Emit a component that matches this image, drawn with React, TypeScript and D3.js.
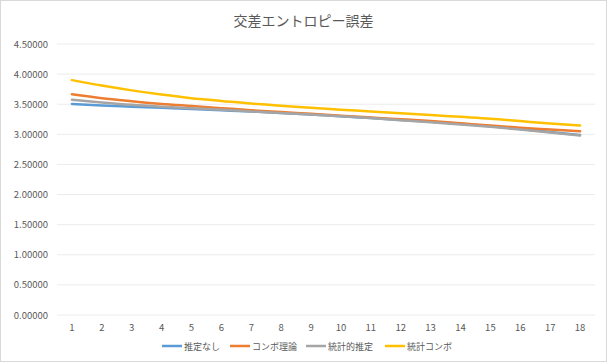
import React from "react";
import * as d3 from "d3";

const categories = ["1","2","3","4","5","6","7","8","9","10","11","12","13","14","15","16","17","18"];
const seriesNames = ["推定なし", "コンボ理論", "統計的推定", "統計コンボ"];
const seriesColors = ["#5B9BD5", "#ED7D31", "#A5A5A5", "#FFC000"];
const noEstimate = [3.505, 3.48, 3.46, 3.44, 3.42, 3.40, 3.38, 3.355, 3.33, 3.30, 3.27, 3.24, 3.21, 3.175, 3.135, 3.09, 3.04, 2.99];
const comboTheory = [3.665, 3.60, 3.55, 3.505, 3.47, 3.435, 3.40, 3.37, 3.34, 3.31, 3.28, 3.25, 3.22, 3.185, 3.145, 3.11, 3.08, 3.05];
const statEstimate = [3.575, 3.53, 3.49, 3.46, 3.435, 3.41, 3.38, 3.355, 3.33, 3.30, 3.27, 3.235, 3.20, 3.165, 3.125, 3.08, 3.03, 2.98];
const statCombo = [3.90, 3.81, 3.73, 3.66, 3.60, 3.555, 3.51, 3.475, 3.44, 3.41, 3.38, 3.35, 3.32, 3.29, 3.26, 3.22, 3.18, 3.145];
const yTicks = [0, 0.5, 1, 1.5, 2, 2.5, 3, 3.5, 4, 4.5];

const W = 607, H = 362;
const FONT = "'Noto Sans CJK JP', 'Noto Sans', sans-serif";
const TEXT = "#595959";

export default function App() {
  const series = [noEstimate, comboTheory, statEstimate, statCombo];
  const x = d3.scalePoint<string>().domain(categories).range([57, 595]).padding(0.5);
  const y = d3.scaleLinear().domain([0, 4.5]).range([315, 44]);
  const line = d3
    .line<number>()
    .x((_, i) => x(categories[i]) as number)
    .y((d) => y(d))
    .curve(d3.curveMonotoneX);
  const fmt = d3.format(".5f");
  const legendX = [162, 230, 306, 385];

  return (
    <svg width={W} height={H} style={{ position: "absolute", left: 0, top: 0, background: "#fff" }}>
      <rect x={0.5} y={0.5} width={W - 1} height={H - 1} fill="#fff" stroke="#d9d9d9" />
      <text x={W / 2} y={26} textAnchor="middle" fontFamily={FONT} fontSize={14} fill={TEXT}>
        交差エントロピー誤差
      </text>
      {yTicks.map((t) => (
        <g key={t}>
          <line x1={57} x2={595} y1={y(t)} y2={y(t)} stroke="#ececec" strokeWidth={1} />
          <text x={48} y={y(t) + 3.5} textAnchor="end" fontFamily={FONT} fontSize={9.5} fill={TEXT}>
            {fmt(t)}
          </text>
        </g>
      ))}
      {categories.map((c) => (
        <text key={c} x={x(c)} y={331} textAnchor="middle" fontFamily={FONT} fontSize={9.5} fill={TEXT}>
          {c}
        </text>
      ))}
      {series.map((s, i) => (
        <path key={i} d={line(s) || ""} fill="none" stroke={seriesColors[i]} strokeWidth={2.5} strokeLinecap="round" />
      ))}
      {seriesNames.map((n, i) => (
        <g key={n}>
          <line x1={legendX[i]} x2={legendX[i] + 20} y1={346} y2={346} stroke={seriesColors[i]} strokeWidth={2.5} />
          <text x={legendX[i] + 22} y={349.5} fontFamily={FONT} fontSize={9} fill={TEXT}>
            {n}
          </text>
        </g>
      ))}
    </svg>
  );
}
